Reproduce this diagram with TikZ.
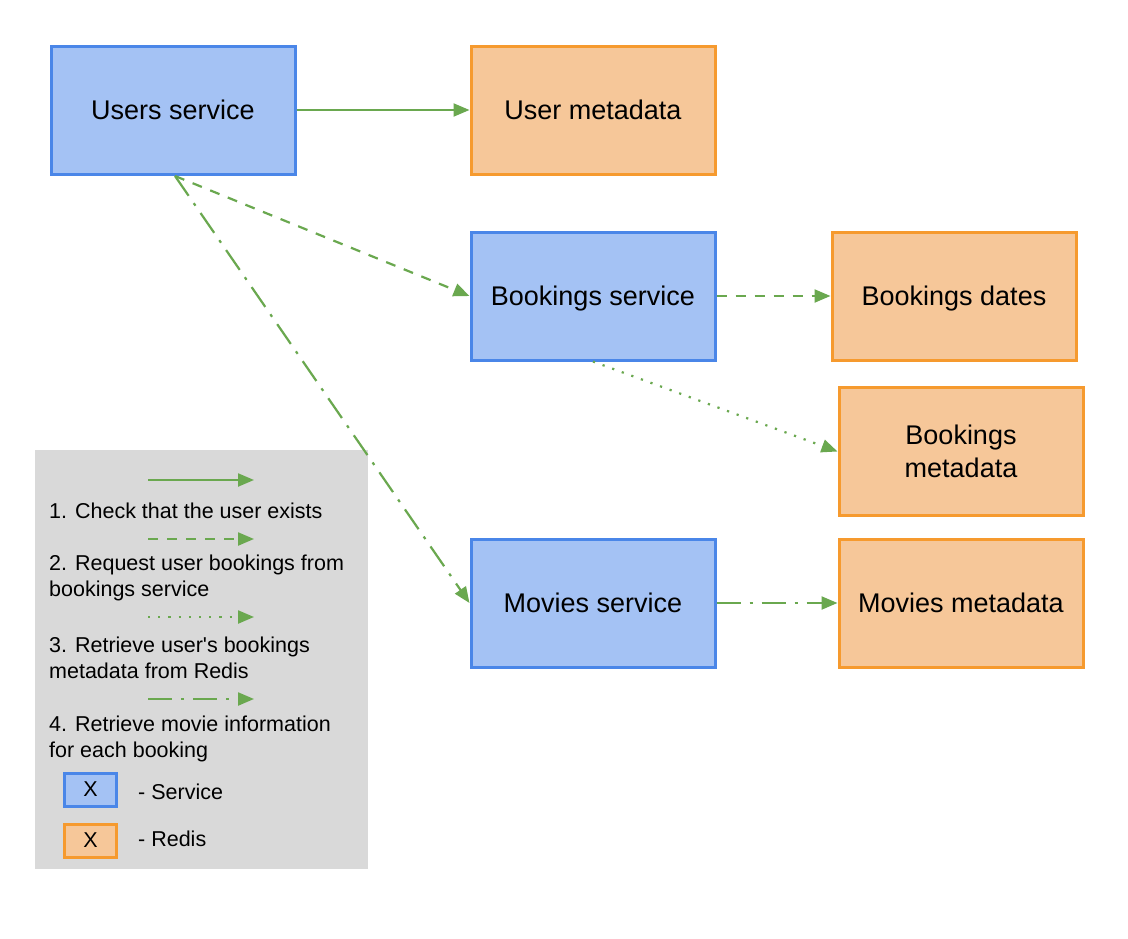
\documentclass[tikz,border=0pt]{standalone}
\usepackage{fontspec}
\setmainfont{Liberation Sans}
\usetikzlibrary{arrows.meta}
\definecolor{svcfill}{HTML}{A4C2F4}
\definecolor{svcdraw}{HTML}{4A86E8}
\definecolor{redfill}{HTML}{F6C799}
\definecolor{reddraw}{HTML}{F69A2E}
\definecolor{arr}{HTML}{6AA84F}
\definecolor{leg}{HTML}{D9D9D9}
\begin{document}
\begin{tikzpicture}[x=1pt,y=-1pt,
  box/.style={minimum width=244pt,minimum height=128pt,line width=3pt,inner sep=0pt,align=center,font=\fontsize{27}{33}\selectfont,text height=19.5pt,text depth=0pt},
  svc/.style={box,draw=svcdraw,fill=svcfill},
  red/.style={box,draw=reddraw,fill=redfill},
  conn/.style={draw=arr,line width=2.2pt,-{Triangle[length=16pt,width=13pt]}},
  dashedconn/.style={conn,dash pattern=on 10pt off 9pt},
  dottedconn/.style={conn,dash pattern=on 2.2pt off 8pt},
  dashdotconn/.style={conn,dash pattern=on 24pt off 9pt on 3pt off 9pt},
  legtext/.style={anchor=west,inner sep=0pt,font=\fontsize{21.5}{26}\selectfont,align=left},
  smallbox/.style={minimum width=52pt,minimum height=33pt,line width=3pt,inner sep=0pt,font=\fontsize{21.5}{26}\selectfont}
]
\useasboundingbox (0,0) rectangle (1128,938);
\fill[white] (0,0) rectangle (1128,938);
% legend background
\node[fill=leg,minimum width=333pt,minimum height=419pt,inner sep=0pt] (legend) at (201.5,659.5) {};

% boxes
\node[svc] (users) at (173,110) {Users service};
\node[red] (umeta) at (593,110) {User metadata};
\node[svc] (bookings) at (593,296) {Bookings service};
\node[red] (bdates) at (954,296) {Bookings dates};
\node[red,text height=,text depth=] (bmeta) at (961,451.5) {Bookings\\metadata};
\node[svc] (movies) at (593,603) {Movies service};
\node[red] (mmeta) at (961,603) {Movies metadata};

% connectors
\coordinate (ubot) at (175,176);
\draw[conn] (users.east) -- (umeta.west);
\draw[dashedconn] (ubot) -- (bookings.west);
\draw[dashdotconn] (ubot) -- (movies.west);
\draw[dashedconn] (bookings.east) -- (bdates.west);
\draw[dottedconn] (bookings.south) -- (bmeta.west);
\draw[dashdotconn] (movies.east) -- (mmeta.west);

% legend content
\coordinate (l1a) at (148,480); \coordinate (l1b) at (254,480);
\coordinate (l2a) at (148,539); \coordinate (l2b) at (254,539);
\coordinate (l3a) at (148,617); \coordinate (l3b) at (254,617);
\coordinate (l4a) at (148,699); \coordinate (l4b) at (254,699);
\draw[conn] (l1a) -- (l1b);
\draw[dashedconn] (l2a) -- (l2b);
\draw[dottedconn] (l3a) -- (l3b);
\draw[dashdotconn] (l4a) -- (l4b);
\node[legtext] (t1) at (49,511) {1. Check that the user exists};
\node[legtext] (t2) at (49,578) {2. Request user bookings from\\bookings service};
\node[legtext] (t3) at (49,658) {3. Retrieve user\textquotesingle s bookings\\metadata from Redis};
\node[legtext] (t4) at (49,739) {4. Retrieve movie information\\for each booking};
\node[smallbox,draw=svcdraw,fill=svcfill] (ls) at (90.5,789.5) {X};
\node[legtext] (lst) at (138,792) {- Service};
\node[smallbox,draw=reddraw,fill=redfill] (lr) at (90.5,840.5) {X};
\node[legtext] (lrt) at (138,839) {- Redis};
\end{tikzpicture}
\end{document}
